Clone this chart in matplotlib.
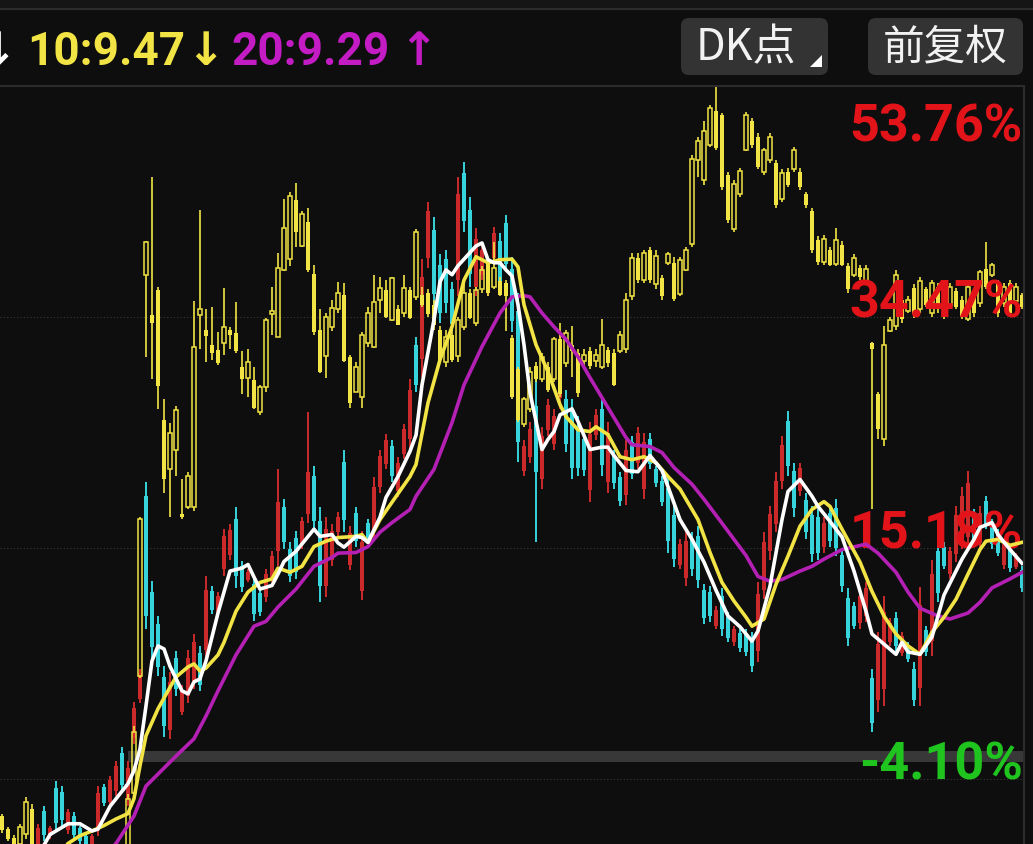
import numpy as np
import matplotlib.pyplot as plt
from matplotlib.patches import FancyBboxPatch, Polygon
import matplotlib.transforms as mtransforms

# ---- main stock candles (percent change vs base) ----
m_open = [-10.6, -11.2, -10.3, -11.1, -10.7, -9.7, -9.6, -6.8, -8.9, -4.9,
          -5.2, -8.4, -7.2, -8.2, -8.9, -9.6, -8.3, -4.8, -6.0, -5.1,
          -1.9, -5.8, -0.7, 2.6, 19.5, 11.5, 8.8, 4.4, 0.0, 6.0,
          1.5, 2.8, 4.1, 6.4, 6.7, 11.6, 9.8, 13.4, 14.6, 17.6,
          13.7, 12.5, 12.2, 11.4, 11.1, 12.7, 14.9, 18.6, 15.1, 16.0,
          15.5, 18.0, 21.2, 17.4, 12.0, 14.2, 16.5, 22.4, 13.8, 18.1,
          11.6, 17.3, 16.7, 20.3, 22.2, 23.7, 19.9, 23.0, 24.3, 32.1,
          31.0, 39.4, 41.7, 38.8, 39.3, 36.8, 37.6, 46.5, 43.4, 37.0,
          38.0, 36.6, 39.4, 40.8, 42.3, 38.5, 35.0, 21.6, 22.8, 27.0,
          20.9, 25.0, 23.9, 27.7, 27.6, 26.6, 25.4, 24.3, 20.0, 24.6,
          26.8, 20.7, 22.9, 21.1, 19.6, 24.0, 22.3, 20.1, 24.3, 21.8,
          20.8, 20.2, 17.9, 13.8, 12.7, 15.9, 16.2, 11.7, 11.5, 8.7,
          11.2, 9.4, 7.3, 8.1, 8.1, 7.6, 6.6, 11.7, 14.9, 17.2,
          20.8, 25.8, 21.6, 19.9, 19.2, 17.9, 17.8, 15.3, 18.1, 18.5,
          14.6, 11.0, 10.3, 8.9, 9.5, 4.3, 2.5, 3.4, 7.3, 9.3,
          6.4, 7.0, 5.1, 3.5, 8.3, 7.4, 14.9, 15.3, 13.0, 14.7,
          15.9, 16.1, 17.9, 15.6, 19.1, 17.2, 16.4, 13.8, 15.0, 13.6,
          13.3]
m_high = [-10.4, -9.9, -10.1, -9.8, -9.6, -9.5, -7.9, -6.4, -8.0, -4.3,
          -4.7, -6.6, -6.9, -8.0, -8.7, -8.7, -4.7, -4.5, -3.9, -2.6,
          -1.4, -2.6, 2.3, 5.1, 20.7, 12.4, 9.5, 5.3, 4.8, 6.6,
          3.7, 6.7, 8.0, 7.0, 12.8, 12.0, 11.5, 16.8, 17.2, 18.6,
          14.1, 13.4, 12.8, 11.8, 13.4, 14.9, 21.8, 19.3, 15.7, 16.6,
          17.8, 26.5, 22.0, 18.6, 17.8, 17.2, 18.2, 23.4, 17.0, 18.6,
          16.6, 17.6, 21.1, 23.4, 24.7, 24.2, 22.8, 25.5, 29.3, 32.8,
          39.3, 44.1, 42.8, 39.7, 40.1, 37.4, 46.2, 47.4, 44.5, 41.9,
          40.5, 39.3, 42.0, 41.5, 43.0, 39.5, 36.5, 24.2, 25.7, 29.5,
          25.3, 27.6, 26.8, 33.3, 28.4, 27.6, 26.2, 24.8, 25.7, 26.8,
          27.8, 25.7, 23.4, 21.5, 24.2, 24.5, 25.3, 24.8, 24.8, 22.0,
          21.2, 21.2, 18.7, 15.9, 16.5, 16.5, 17.0, 12.2, 12.0, 10.3,
          11.8, 9.8, 8.7, 8.4, 8.4, 8.2, 12.3, 16.5, 18.7, 21.5,
          24.5, 26.6, 22.3, 22.3, 19.8, 18.7, 18.4, 17.8, 18.7, 19.3,
          15.1, 11.8, 10.7, 11.8, 12.3, 5.1, 8.2, 11.2, 9.3, 9.8,
          8.2, 7.3, 5.7, 11.9, 8.7, 14.2, 15.7, 15.7, 15.3, 18.7,
          20.3, 21.6, 18.4, 18.7, 19.5, 17.6, 16.8, 15.9, 15.3, 14.8,
          13.7]
m_low = [-11.6, -11.4, -11.8, -11.3, -10.9, -10.8, -9.9, -9.3, -9.1, -8.4,
         -8.0, -8.7, -9.1, -9.5, -9.8, -9.8, -8.9, -6.4, -6.4, -5.5,
         -5.2, -6.4, -1.2, 2.2, 8.4, 5.9, 4.5, -0.6, -0.8, 2.8,
         1.2, 2.2, 3.4, 3.2, 5.7, 9.7, 9.5, 12.8, 14.2, 11.8,
         11.5, 12.3, 9.1, 9.5, 10.7, 12.3, 13.7, 15.1, 12.3, 12.6,
         15.1, 17.3, 16.6, 10.7, 11.1, 13.7, 16.2, 16.5, 13.3, 15.3,
         10.8, 15.5, 15.9, 19.8, 21.8, 20.7, 19.4, 22.6, 23.4, 28.2,
         29.5, 38.6, 35.3, 34.0, 34.8, 33.3, 36.2, 41.6, 37.0, 36.2,
         37.6, 36.2, 39.0, 36.8, 38.2, 33.2, 22.4, 21.2, 22.3, 15.7,
         20.1, 24.5, 23.4, 26.8, 23.2, 20.9, 21.2, 21.2, 19.0, 24.2,
         21.2, 19.8, 20.1, 18.7, 18.8, 20.9, 21.8, 19.3, 21.8, 20.3,
         18.7, 14.8, 13.6, 13.4, 12.0, 12.8, 11.8, 8.8, 9.0, 8.4,
         7.8, 7.3, 7.0, 6.5, 6.2, 4.8, 5.7, 10.9, 14.2, 16.5,
         20.1, 21.2, 17.8, 19.5, 15.9, 14.0, 14.2, 14.8, 15.3, 14.5,
         11.5, 7.0, 8.4, 8.4, 9.0, -0.2, 1.5, 2.0, 7.0, 6.5,
         6.2, 5.7, 2.0, 2.0, 6.2, 6.2, 10.7, 13.4, 12.6, 14.0,
         15.1, 15.1, 15.3, 15.1, 16.8, 15.1, 14.5, 13.4, 13.2, 13.4,
         11.5]
m_close = [-11.4, -10.1, -11.5, -10.0, -9.8, -10.6, -8.2, -8.8, -8.2, -7.8,
           -7.5, -6.9, -8.8, -9.3, -9.6, -8.9, -5.3, -6.1, -4.2, -3.0,
           -4.6, -3.2, 1.8, 4.7, 9.5, 6.9, 5.2, 0.3, 4.0, 3.4,
           3.3, 6.0, 7.3, 3.7, 11.7, 10.0, 11.2, 16.2, 16.7, 12.8,
           11.9, 13.2, 9.7, 9.8, 13.0, 14.5, 19.0, 15.7, 12.8, 13.2,
           17.4, 21.5, 17.4, 12.0, 16.8, 16.6, 17.8, 17.5, 16.4, 15.8,
           15.7, 15.8, 20.3, 22.9, 24.2, 21.2, 22.3, 25.1, 28.4, 28.8,
           37.8, 43.3, 36.4, 34.8, 35.6, 33.9, 44.7, 42.5, 38.1, 41.0,
           40.1, 38.8, 41.5, 37.5, 38.9, 34.1, 24.0, 23.7, 25.1, 21.5,
           24.5, 27.1, 26.2, 32.3, 23.9, 21.9, 21.9, 21.7, 24.7, 26.3,
           22.1, 24.8, 20.6, 19.1, 23.4, 21.4, 24.8, 24.0, 22.2, 20.6,
           19.0, 15.8, 14.3, 15.5, 15.8, 13.4, 12.5, 9.3, 9.5, 10.0,
           8.4, 7.7, 8.4, 6.8, 6.5, 5.3, 11.3, 15.7, 18.0, 20.8,
           23.8, 22.0, 18.5, 21.9, 16.5, 14.7, 14.8, 17.3, 15.8, 15.2,
           12.0, 7.7, 8.7, 11.2, 11.8, 0.6, 7.2, 9.8, 8.9, 7.0,
           7.8, 5.9, 2.5, 10.4, 6.5, 13.0, 11.4, 13.7, 14.9, 17.9,
           19.5, 20.6, 15.8, 18.1, 17.2, 15.5, 14.8, 15.5, 13.5, 14.6,
           11.8]

# ---- overlaid (yellow) stock candles ----
y_open = [-7.2, -8.3, -9.0, -9.5, -8.7, -6.6, -10.8, -12.0, -13.0, -14.0,
          -13.0, -14.0, -15.5, -15.0, -14.5, -14.0, -15.5, -16.5, -15.0, -13.5,
          -12.5, -10.3, -5.3, 4.5, 38.0, 34.6, 36.7, 25.9, 21.8, 23.4,
          18.0, 18.6, 18.6, 34.6, 33.4, 32.1, 31.7, 32.3, 33.4, 33.1,
          30.3, 29.4, 29.2, 26.5, 28.6, 34.7, 32.8, 38.4, 39.3, 44.2,
          40.4, 42.4, 38.1, 33.4, 31.2, 33.6, 35.1, 36.3, 31.1, 28.2,
          27.8, 32.3, 32.0, 35.9, 36.7, 34.2, 35.1, 34.8, 36.7, 36.1,
          36.3, 36.5, 35.5, 33.4, 30.7, 33.0, 31.2, 33.6, 36.5, 34.0,
          36.8, 39.0, 37.0, 37.5, 37.3, 32.7, 30.1, 25.5, 26.8, 30.4,
          29.3, 30.3, 29.3, 32.6, 30.6, 32.1, 31.5, 30.8, 31.6, 30.8,
          30.3, 31.7, 31.5, 31.6, 31.8, 36.2, 39.4, 37.6, 40.1, 37.2,
          37.7, 39.0, 39.0, 36.4, 38.4, 40.6, 47.6, 45.9, 48.8, 51.7,
          51.3, 46.3, 41.8, 44.7, 48.4, 50.8, 49.5, 46.6, 47.6, 47.3,
          44.3, 46.6, 46.8, 46.6, 44.7, 43.3, 40.9, 39.1, 40.1, 38.9,
          40.5, 38.7, 38.0, 38.6, 37.5, 32.3, 28.0, 24.3, 33.3, 33.7,
          35.9, 35.0, 36.9, 35.1, 36.8, 34.8, 37.0, 36.5, 35.5, 36.6,
          35.9, 34.3, 36.5, 35.6, 38.5, 38.0, 37.3, 35.6, 37.3, 35.8,
          36.3]
y_high = [-7.0, -8.1, -8.8, -7.9, -5.6, -6.2, -10.5, -11.5, -12.0, -12.5,
          -12.0, -13.0, -14.0, -13.5, -13.0, -13.5, -14.0, -14.5, -13.0, -12.0,
          -11.0, -5.4, 0.3, 17.8, 40.8, 46.2, 37.0, 27.6, 25.6, 27.0,
          20.9, 21.5, 35.8, 43.4, 35.1, 35.3, 33.2, 36.9, 33.6, 35.7,
          31.6, 31.8, 30.3, 28.8, 34.4, 37.0, 39.8, 44.3, 44.9, 45.7,
          43.3, 43.6, 38.8, 35.1, 34.8, 35.9, 37.4, 37.3, 31.3, 30.7,
          33.2, 35.3, 38.0, 37.8, 37.6, 37.8, 35.5, 38.0, 37.0, 41.8,
          37.0, 36.8, 35.9, 33.7, 33.4, 33.4, 34.5, 37.3, 36.8, 37.0,
          38.7, 39.3, 40.7, 37.8, 37.6, 33.0, 30.3, 27.8, 30.3, 30.7,
          31.5, 30.7, 32.8, 34.0, 33.4, 33.7, 31.8, 31.8, 32.0, 31.8,
          34.3, 32.0, 31.8, 33.3, 36.5, 39.8, 39.8, 40.1, 40.3, 40.1,
          38.0, 39.9, 39.5, 39.5, 40.3, 48.0, 49.5, 50.8, 52.2, 53.7,
          51.5, 46.6, 45.9, 46.9, 51.6, 51.1, 49.8, 48.6, 49.8, 47.6,
          46.8, 46.9, 48.7, 46.9, 44.9, 43.6, 41.2, 41.3, 40.3, 41.9,
          40.8, 39.0, 39.7, 38.8, 38.8, 32.4, 28.2, 33.7, 34.5, 38.4,
          36.2, 36.2, 37.2, 37.8, 37.0, 37.6, 37.3, 36.8, 37.3, 36.9,
          36.2, 37.3, 36.8, 38.4, 40.7, 39.0, 37.6, 37.3, 37.6, 37.3,
          36.5]
y_low = [-8.6, -9.3, -9.8, -9.9, -9.1, -9.9, -12.5, -13.5, -14.5, -15.0,
         -14.5, -16.0, -16.5, -16.0, -15.5, -16.0, -17.0, -17.0, -15.5, -14.5,
         -13.5, -10.8, -5.5, 4.3, 31.1, 29.3, 26.8, 19.8, 17.8, 21.2,
         17.6, 18.4, 18.3, 31.8, 30.7, 30.9, 30.5, 31.3, 31.8, 31.5,
         28.0, 27.8, 26.8, 26.3, 28.2, 33.0, 32.8, 38.3, 38.7, 40.3,
         40.3, 38.2, 33.0, 29.8, 29.4, 33.3, 34.8, 30.7, 26.9, 28.2,
         26.9, 32.0, 31.9, 34.8, 34.4, 34.1, 33.8, 34.5, 34.3, 35.9,
         35.3, 34.5, 33.4, 30.7, 30.3, 30.7, 30.7, 33.4, 34.3, 33.7,
         36.5, 36.2, 36.8, 36.2, 33.3, 27.6, 25.7, 25.3, 26.5, 29.0,
         29.0, 28.2, 29.0, 27.8, 30.3, 29.5, 27.8, 30.3, 30.1, 30.3,
         30.1, 30.3, 28.7, 31.5, 31.5, 35.9, 37.3, 37.3, 37.3, 36.8,
         35.9, 38.8, 35.8, 36.2, 38.3, 40.3, 46.2, 45.5, 48.7, 48.4,
         45.1, 42.3, 41.6, 44.5, 48.3, 48.6, 46.8, 46.3, 47.3, 43.6,
         44.1, 45.3, 46.6, 45.1, 43.6, 39.8, 38.8, 38.8, 38.7, 38.7,
         38.7, 36.5, 37.8, 37.6, 37.3, 18.4, 24.3, 23.7, 33.2, 33.4,
         34.0, 34.8, 34.4, 34.8, 35.3, 34.5, 34.8, 34.3, 35.3, 35.1,
         34.3, 34.1, 34.5, 35.3, 36.8, 37.8, 34.5, 35.3, 34.5, 35.7,
         35.1]
y_close = [-8.4, -9.1, -9.6, -8.1, -6.0, -9.5, -12.0, -13.0, -14.0, -13.0,
           -14.0, -15.5, -15.0, -14.5, -14.0, -15.5, -16.5, -15.0, -13.5, -12.5,
           -11.5, -5.8, -0.2, 17.6, 40.7, 34.0, 28.7, 20.9, 24.8, 26.7,
           17.8, 21.2, 32.0, 35.1, 32.9, 31.5, 30.6, 33.6, 33.0, 31.6,
           29.3, 30.7, 26.9, 28.6, 34.2, 35.0, 38.6, 41.9, 44.6, 41.6,
           43.1, 38.4, 33.2, 29.9, 34.5, 35.2, 36.5, 30.8, 27.3, 30.3,
           33.0, 34.8, 35.7, 36.9, 34.5, 37.7, 33.8, 36.9, 34.4, 41.6,
           35.5, 34.7, 33.8, 30.9, 32.8, 30.9, 34.2, 36.5, 34.4, 36.7,
           38.4, 36.5, 38.6, 36.3, 36.2, 27.8, 25.9, 27.6, 29.9, 29.3,
           31.1, 28.4, 32.6, 28.0, 33.1, 31.6, 28.1, 31.3, 30.4, 31.3,
           32.1, 30.6, 28.8, 33.0, 35.9, 39.4, 37.6, 39.8, 37.6, 39.6,
           36.2, 39.7, 36.0, 39.2, 40.1, 47.7, 49.2, 50.0, 51.9, 48.6,
           45.3, 42.6, 45.6, 46.7, 51.3, 48.8, 47.0, 48.4, 49.5, 43.8,
           46.5, 45.5, 48.4, 45.3, 43.8, 40.1, 39.1, 41.0, 38.8, 40.9,
           38.8, 36.8, 39.4, 37.8, 38.5, 31.8, 25.1, 32.1, 34.2, 38.0,
           34.3, 35.9, 34.7, 37.5, 35.5, 37.3, 35.1, 34.5, 37.0, 35.3,
           34.5, 37.0, 34.8, 38.2, 37.0, 38.8, 34.8, 37.0, 34.8, 37.0,
           35.3]

# ---- moving averages (candle index, percent) ----
ma5_idx = [6, 8, 11, 13, 15, 16, 18, 21, 22, 23, 24, 25, 26, 27, 28, 30, 31, 32, 33, 34,
           36, 38, 40, 41, 42, 43, 45, 46, 47, 49, 52, 53, 55, 56, 57, 59, 60, 61, 63, 64,
           66, 68, 69, 70, 72, 73, 74, 75, 76, 77, 79, 80, 81, 82, 83, 84, 85, 86, 87, 88,
           90, 91, 92, 93, 95, 96, 98, 100, 101, 102, 104, 106, 108, 110, 111, 113, 115, 117, 119, 121,
           123, 125, 126, 128, 130, 131, 133, 135, 136, 138, 140, 142, 144, 145, 147, 149, 150, 151, 153, 155,
           157, 159, 160, 162, 163, 165, 166, 168, 170]
ma5_val = [-10.5, -8.75, -7.85, -7.85, -8.45, -8.3, -6.4, -4.5, -3.4, -1.6, 2.0, 5.75, 7.0, 6.75, 5.3, 3.25, 3.0, 4.0, 4.25, 5.75,
           9.75, 13.25, 13.5, 13.8, 12.75, 11.75, 12.05, 13.0, 14.05, 14.9, 16.75, 16.15, 16.3, 15.6, 15.25, 16.15, 16.05, 15.65, 17.75, 19.4,
           21.15, 23.25, 24.6, 28.8, 34.25, 37.4, 38.4, 38.0, 38.75, 39.3, 40.4, 40.65, 39.25, 39.0, 39.0, 38.4, 37.9, 35.5, 32.15, 28.15,
           23.4, 24.25, 24.9, 26.3, 26.8, 25.75, 23.4, 23.6, 23.6, 22.9, 21.65, 21.55, 22.9, 21.65, 20.3, 17.55, 15.9, 14.0, 11.65, 9.5,
           8.6, 7.4, 8.25, 12.0, 17.55, 19.9, 20.9, 19.5, 18.65, 17.4, 16.1, 13.25, 9.9, 8.0, 7.15, 6.3, 7.3, 6.5, 6.3, 7.75,
           11.25, 13.25, 14.25, 15.9, 16.9, 17.3, 16.3, 15.05, 13.9]
ma10_idx = [9, 11, 13, 15, 17, 19, 21, 22, 23, 24, 26, 28, 29, 31, 32, 33, 34, 36, 37, 39,
            41, 43, 45, 46, 48, 50, 52, 54, 56, 59, 60, 61, 63, 65, 68, 69, 71, 73, 75, 77,
            79, 81, 83, 85, 86, 87, 89, 91, 93, 94, 96, 98, 99, 101, 103, 105, 107, 109, 111, 113,
            116, 118, 120, 122, 124, 125, 127, 129, 131, 133, 135, 137, 138, 140, 143, 145, 147, 149, 151, 153,
            155, 157, 159, 161, 163, 164, 166, 168, 170]
ma10_val = [-10.8, -9.5, -8.85, -8.45, -8.0, -7.45, -7.0, -5.75, -3.0, -0.5, 1.75, 3.55, 4.4, 5.25, 5.5, 4.9, 5.15, 6.25, 7.3, 9.9,
            11.5, 12.3, 12.6, 13.5, 13.15, 13.65, 15.3, 15.75, 16.05, 16.15, 16.3, 15.65, 17.55, 19.0, 21.15, 22.15, 27.3, 30.9, 33.65, 37.55,
            39.5, 39.0, 39.25, 39.3, 38.65, 35.5, 32.15, 29.9, 27.15, 26.15, 25.05, 24.9, 25.3, 24.65, 22.8, 22.55, 22.8, 22.3, 21.15, 20.1,
            17.55, 14.8, 12.3, 10.75, 9.4, 8.65, 9.25, 12.15, 14.5, 17.0, 18.4, 19.05, 18.65, 16.75, 14.0, 11.55, 9.5, 8.0, 7.0, 6.3,
            8.15, 9.4, 10.9, 13.0, 15.05, 15.75, 15.9, 15.4, 15.65]
ma20_idx = [16, 19, 22, 24, 26, 29, 32, 34, 36, 39, 42, 44, 46, 49, 52, 55, 56, 59, 61, 63,
            65, 68, 69, 72, 75, 77, 80, 83, 85, 87, 88, 90, 92, 94, 96, 98, 101, 104, 105, 108,
            110, 112, 115, 117, 120, 122, 124, 126, 128, 130, 133, 135, 137, 140, 144, 146, 149, 151, 153, 156,
            158, 161, 163, 165, 168, 170]
ma20_val = [-11.0, -9.5, -7.2, -4.7, -3.7, -2.2, -0.75, 1.15, 3.25, 6.25, 8.65, 9.05, 10.25, 11.75, 13.65, 14.4, 14.75, 14.8, 15.3, 16.5,
            17.3, 18.4, 19.5, 21.75, 25.65, 28.8, 32.0, 34.8, 36.15, 36.25, 36.15, 34.8, 33.65, 32.6, 31.15, 29.4, 26.9, 24.4, 23.8, 23.65,
            23.15, 21.9, 20.5, 19.25, 17.25, 15.9, 14.55, 12.8, 12.4, 12.55, 13.25, 13.65, 14.25, 15.05, 15.5, 14.75, 13.15, 11.5, 10.15, 9.5,
            9.25, 9.75, 10.65, 11.85, 12.6, 13.15]

pct_levels = [53.76, 34.47, 15.18, -4.10]
header_items = [("10:9.47", "↓"), ("20:9.29", "↑")]

BG = "#0e0e0e"
RED = "#cc2a2a"
CYAN = "#38d4dc"
YEL = "#f2e444"
PURPLE = "#b420b4"
MAGENTA = "#c41cc4"
LINE = "#2c2c2c"
W, H = 1033, 845

fig = plt.figure(figsize=(W / 100, H / 100), dpi=100)
fig.patch.set_facecolor(BG)

# chart panel
ax = fig.add_axes([0, 0, 1024 / W, (H - 87) / H])
ax.set_facecolor(BG)
ax.set_xlim(-1 / 3, 170 + 1 / 3)
ax.set_ylim(-9.54, 53.76)
ax.axis("off")

for lv in pct_levels[1:]:
    ax.axhline(lv, color="#3a3a3a", lw=0.8, ls=(0, (1, 2)), zorder=0.5)
ax.axhspan(-2.69, -1.77, xmin=128 / 1024, xmax=1, color="#383838", lw=0, zorder=0.8)

idx = np.arange(len(m_close))

# main candles
mo, mh, ml, mc = map(np.array, (m_open, m_high, m_low, m_close))
mcol = np.where(mc >= mo, RED, CYAN)
ax.vlines(idx, ml, mh, colors=mcol, lw=1.4, zorder=1)
ax.bar(idx, np.maximum(np.abs(mc - mo), 0.2), bottom=np.minimum(mo, mc), width=0.74,
       color=mcol, lw=0, zorder=1.1)

# yellow overlay candles: hollow when up, wick kept out of hollow bodies
yo, yh, yl, yc = map(np.array, (y_open, y_high, y_low, y_close))
ytop = np.maximum(yo, yc)
ybot = np.minimum(yo, yc)
ax.vlines(idx, ytop, yh, color=YEL, lw=1.2, zorder=2)
ax.vlines(idx, yl, ybot, color=YEL, lw=1.2, zorder=2)
yup = yc >= yo
ax.bar(idx[yup], np.maximum(ytop - ybot, 0.25)[yup], bottom=ybot[yup], width=0.62,
       facecolor="none", edgecolor=YEL, lw=1.1, zorder=2.1)
ax.bar(idx[~yup], np.maximum(ytop - ybot, 0.25)[~yup], bottom=ybot[~yup], width=0.72,
       color=YEL, lw=0, zorder=2.1)

ax.plot(ma20_idx, ma20_val, color=PURPLE, lw=2.6, zorder=4, solid_joinstyle="round")
ax.plot(ma10_idx, ma10_val, color=YEL, lw=2.6, zorder=4.1, solid_joinstyle="round")
ax.plot(ma5_idx, ma5_val, color="white", lw=2.6, zorder=4.2, solid_joinstyle="round")

# percent labels on the right (above candles, below the MA lines)
trans = mtransforms.blended_transform_factory(ax.transAxes, ax.transData)
lab_y = [49.25, 34.47, 15.18, -4.10]
for lv, yy in zip(pct_levels, lab_y):
    col = "#1fc41f" if lv < 0 else "#e2141a"
    ax.text(0.999, yy, f"{lv:.2f}%", transform=trans, ha="right", va="baseline",
            fontsize=37.5, color=col, family=["Roboto", "DejaVu Sans"], weight="semibold",
            zorder=3)

# header overlay in pixel coordinates
ov = fig.add_axes([0, 0, 1, 1], facecolor="none")
ov.set_xlim(0, W)
ov.set_ylim(H, 0)
ov.axis("off")
ov.axhspan(0, 9, color="#151515", lw=0)
ov.plot([0, W], [9.5, 9.5], color=LINE, lw=1.5)
ov.plot([0, 1024], [86.5, 86.5], color=LINE, lw=1.5)
ov.plot([1024, 1024], [86.5, H], color=LINE, lw=1.5)

hfont = dict(fontsize=33, family=["Roboto", "DejaVu Sans"], weight="semibold", va="baseline")
ov.text(-22, 65, "↓", color="white", ha="left", **hfont)
ov.text(27, 65, header_items[0][0], color=YEL, ha="left", **hfont)
ov.text(186, 65, header_items[0][1], color=YEL, ha="left", **hfont)
ov.text(231, 65, header_items[1][0], color=MAGENTA, ha="left", **hfont)
ov.text(399, 65, header_items[1][1], color=MAGENTA, ha="left", **hfont)

for x0, w in [(681, 147), (868, 155)]:
    ov.add_patch(FancyBboxPatch((x0, 19), w, 57, boxstyle="round,pad=0,rounding_size=8",
                                fc="#333333", ec="none"))
ov.add_patch(Polygon([(822, 56), (822, 68), (810, 68)], closed=True, fc="white", ec="none"))
cjk = ["Noto Sans CJK SC", "DejaVu Sans"]
ov.text(746, 48, "DK点", color="#f2f2f2", fontsize=31, family=cjk, ha="center", va="center")
ov.text(945, 48, "前复权", color="#f2f2f2", fontsize=30, family=cjk, ha="center", va="center")

fig.savefig("out.png", dpi=100, facecolor=BG)
